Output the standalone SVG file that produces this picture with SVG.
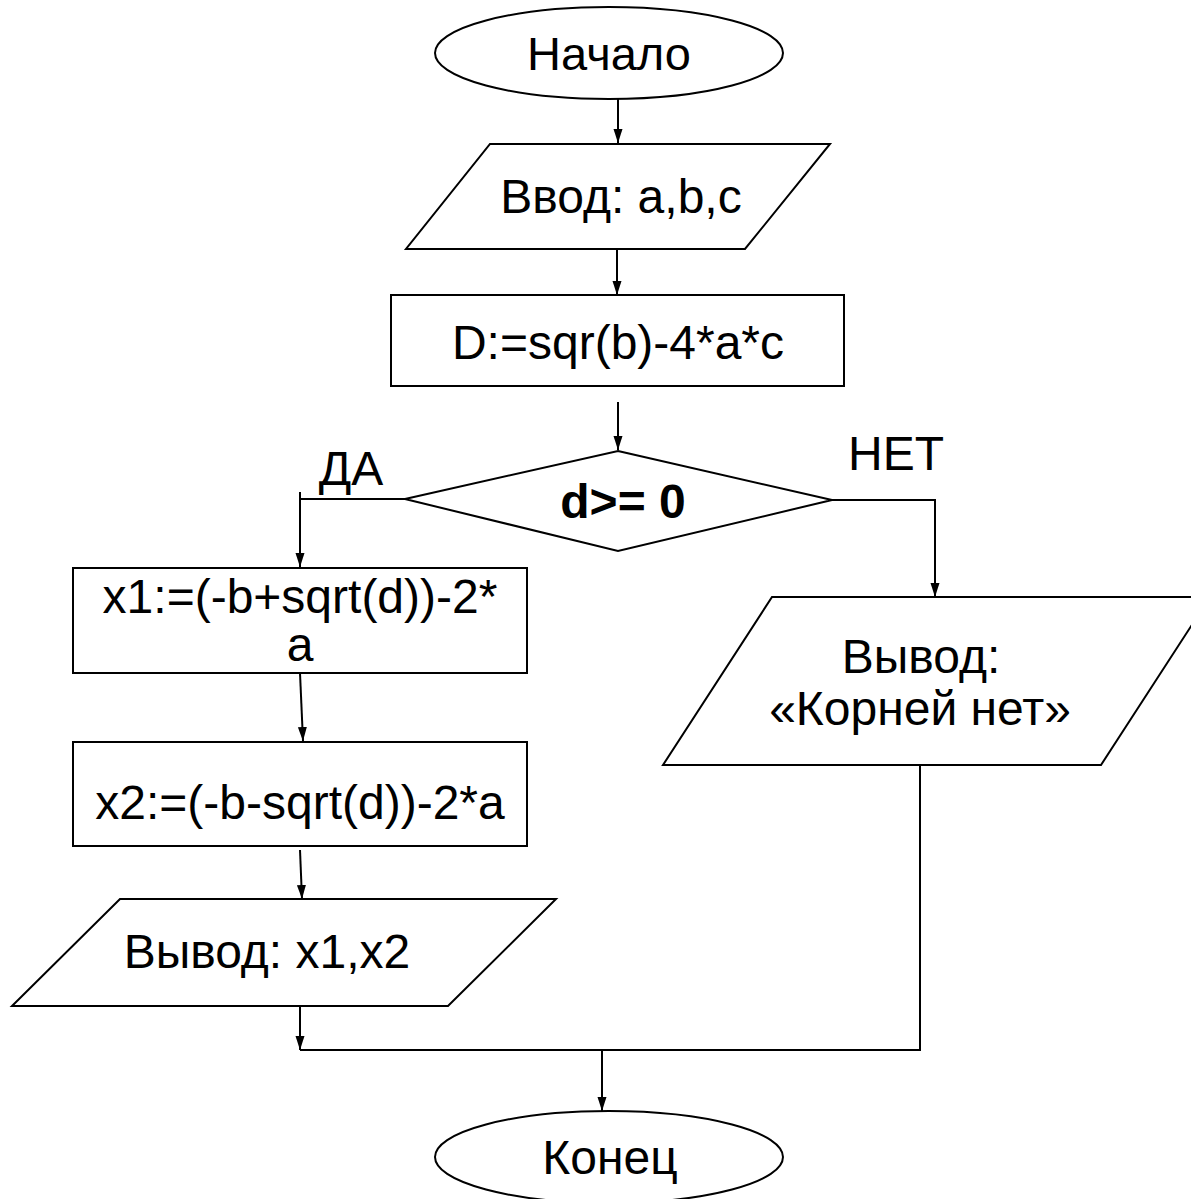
<svg xmlns="http://www.w3.org/2000/svg" width="1191" height="1199" viewBox="0 0 1191 1199">
  <style>
    .shape { fill: #ffffff; stroke: #000000; stroke-width: 2; }
    .label { font-family: "Liberation Sans", Arial, sans-serif; font-size: 48px; fill: #000000; text-anchor: middle; }
    .bold { font-weight: bold; }
    .edge { fill: none; stroke: #000000; stroke-width: 2; }
  </style>
  <defs>
    <marker id="arrow" viewBox="0 0 14 10" refX="14" refY="5" markerWidth="14" markerHeight="10" markerUnits="userSpaceOnUse" orient="auto">
      <path d="M0,0.5 L14,5 L0,9.5 Z" fill="#000000"/>
    </marker>
  </defs>
  <rect width="1191" height="1199" fill="#ffffff"/>

  <!-- flow lines -->
  <g id="connectors">
    <line class="edge" x1="618" y1="99" x2="618" y2="143" marker-end="url(#arrow)"/>
    <line class="edge" x1="617" y1="249" x2="617" y2="295" marker-end="url(#arrow)"/>
    <line class="edge" x1="618" y1="402" x2="618" y2="450" marker-end="url(#arrow)"/>
    <polyline class="edge" points="405,499 300,499"/>
    <line class="edge" x1="300" y1="492" x2="300" y2="567" marker-end="url(#arrow)"/>
    <polyline class="edge" points="832,500 935,500 935,597" marker-end="url(#arrow)"/>
    <line class="edge" x1="300" y1="673" x2="303" y2="741" marker-end="url(#arrow)"/>
    <line class="edge" x1="300" y1="850" x2="302" y2="899" marker-end="url(#arrow)"/>
    <line class="edge" x1="300" y1="1006" x2="300" y2="1050" marker-end="url(#arrow)"/>
    <polyline class="edge" points="300,1050 920,1050 920,765"/>
    <line class="edge" x1="602" y1="1050" x2="602" y2="1111" marker-end="url(#arrow)"/>
  </g>

  <g id="start">
    <ellipse class="shape" cx="609" cy="53" rx="174" ry="46"/>
    <text class="label" x="609" y="70" style="font-size:47px">Начало</text>
  </g>

  <g id="input">
    <polygon class="shape" points="490,144 830,144 745,249 406,249"/>
    <text class="label" x="621" y="213">Ввод: a,b,c</text>
  </g>

  <g id="discriminant">
    <rect class="shape" x="391" y="295" width="453" height="91"/>
    <text class="label" x="618" y="359">D:=sqr(b)-4*a*c</text>
  </g>

  <g id="condition">
    <polygon class="shape" points="618,451 832,500 618,551 405,499"/>
    <text class="label bold" x="623" y="518">d&gt;= 0</text>
  </g>

  <g id="yes-label">
    <text class="label" x="351" y="485">ДА</text>
  </g>
  <g id="no-label">
    <text class="label" x="896" y="470">НЕТ</text>
  </g>

  <g id="root1">
    <rect class="shape" x="73" y="568" width="454" height="105"/>
    <text class="label" x="300" y="613">x1:=(-b+sqrt(d))-2*</text>
    <text class="label" x="300" y="661">a</text>
  </g>

  <g id="root2">
    <rect class="shape" x="73" y="742" width="454" height="104"/>
    <text class="label" x="300" y="819">x2:=(-b-sqrt(d))-2*a</text>
  </g>

  <g id="output-roots">
    <polygon class="shape" points="120,899 556,899 448,1006 12,1006"/>
    <text class="label" x="267" y="968">Вывод: x1,x2</text>
  </g>

  <g id="output-none">
    <polygon class="shape" points="772,597 1210,597 1101,765 663,765"/>
    <text class="label" x="921" y="673">Вывод:</text>
    <text class="label" x="920" y="725">«Корней нет»</text>
  </g>

  <g id="end">
    <ellipse class="shape" cx="609" cy="1157" rx="174" ry="46"/>
    <text class="label" x="610" y="1174">Конец</text>
  </g>
</svg>
